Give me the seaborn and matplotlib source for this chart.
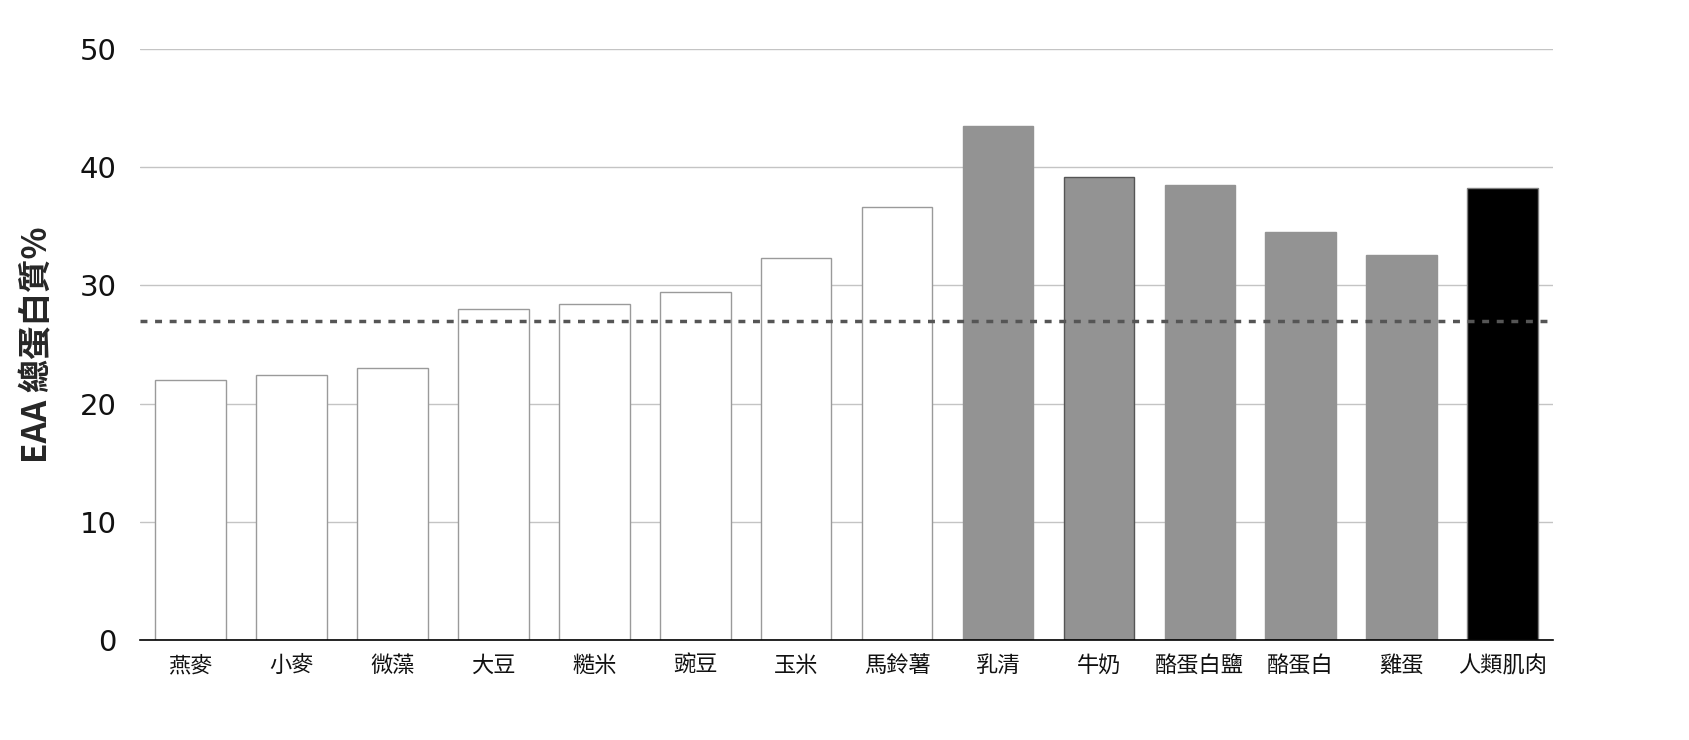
import numpy as np
import matplotlib
matplotlib.use("Agg")
import matplotlib.pyplot as plt
import seaborn as sns

foods = ['燕麥', '小麥', '微藻', '大豆', '糙米', '豌豆', '玉米', '馬鈴薯',
         '乳清', '牛奶', '酪蛋白鹽', '酪蛋白', '雞蛋', '人類肌肉']
eaa = [22.0, 22.4, 23.0, 28.0, 28.4, 29.4, 32.3, 36.6,
       43.5, 39.2, 38.5, 34.5, 32.6, 38.2]
group = ['plant'] * 8 + ['animal'] * 5 + ['human']
threshold = 27.0

fills = {'plant': '#ffffff', 'animal': '#939393', 'human': '#000000'}
edges = {'plant': '#9a9a9a', 'animal': '#939393', 'human': '#808080'}

sns.set_theme(style="white")
plt.rcParams['font.family'] = ['Noto Sans CJK TC', 'DejaVu Sans']

fig = plt.figure(figsize=(16.89, 7.4), dpi=100)
ax = fig.add_axes([0.083, 0.135, 0.8365, 0.799])

sns.barplot(x=foods, y=eaa, hue=foods, palette=[fills[g] for g in group],
            legend=False, width=0.7, saturation=1, ax=ax)
for p, g, f in zip(ax.patches, group, foods):
    ec = '#555555' if f == '牛奶' else edges[g]
    p.set_edgecolor(ec)
    p.set_linewidth(1.0)
    p.set_zorder(3)

ax.axhline(threshold, color='#555555', lw=2.5, ls=(0, (2, 2.2)), zorder=4)

ax.set_ylim(0, 50)
ax.set_xlim(-0.5, 13.5)
ax.set_yticks([0, 10, 20, 30, 40, 50])
ax.yaxis.grid(True, color='#c4c4c4', lw=1)
ax.set_axisbelow(True)
for s in ['top', 'right', 'left']:
    ax.spines[s].set_visible(False)
ax.spines['bottom'].set_color('#000000')
ax.spines['bottom'].set_linewidth(1.2)
ax.spines['bottom'].set_zorder(5)
ax.tick_params(axis='y', length=0, pad=17, labelsize=21, labelcolor='#111111')
ax.tick_params(axis='x', length=0, pad=10, labelsize=16, labelcolor='#111111')
for t in ax.get_yticklabels():
    t.set_family('DejaVu Sans')
ax.set_ylabel('EAA 總蛋白質%', fontsize=24, fontweight='bold', labelpad=18)
ax.set_xlabel('')

fig.savefig('out.png', dpi=100)
